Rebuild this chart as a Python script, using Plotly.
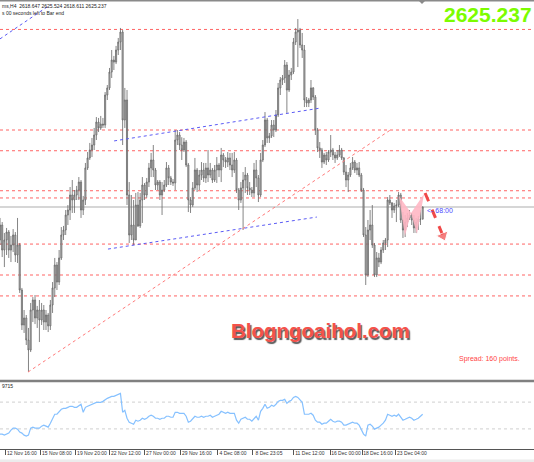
import plotly.graph_objects as go

# ---------------- data ----------------
open_ = [2607.4, 2615.5, 2602.0, 2607.4, 2611.7, 2602.0, 2604.7, 2610.1, 2599.3, 2604.7,
         2580.4, 2561.5, 2565.3, 2553.4, 2548.0, 2569.6, 2575.0, 2565.3, 2569.6, 2564.2,
         2569.6, 2563.1, 2566.9, 2561.0, 2572.3, 2581.5, 2593.9, 2584.7, 2597.7, 2610.1,
         2612.8, 2620.9, 2623.6, 2631.7, 2629.0, 2631.7, 2634.4, 2638.7, 2623.6, 2629.0,
         2646.3, 2651.7, 2656.0, 2658.7, 2664.1, 2671.1, 2667.9, 2670.0, 2669.5, 2685.7,
         2689.5, 2698.1, 2704.6, 2703.5, 2710.0, 2714.3, 2719.7, 2672.2, 2683.0, 2631.7,
         2610.1, 2615.5, 2607.4, 2626.3, 2615.0, 2629.0, 2637.1, 2631.7, 2638.7, 2646.3,
         2650.6, 2645.2, 2637.1, 2638.7, 2631.7, 2634.4, 2637.1, 2646.3, 2640.9, 2638.7,
         2638.2, 2661.4, 2664.1, 2658.7, 2656.0, 2660.3, 2647.9, 2629.0, 2626.3, 2635.5,
         2645.2, 2637.1, 2642.5, 2645.2, 2640.9, 2646.3, 2642.5, 2645.2, 2639.8, 2645.2,
         2647.9, 2645.2, 2653.3, 2650.6, 2649.5, 2651.7, 2647.9, 2645.2, 2650.6, 2634.4,
         2629.0, 2635.5, 2639.8, 2642.5, 2635.5, 2634.4, 2632.8, 2645.2, 2640.9, 2631.7,
         2650.6, 2658.7, 2672.2, 2662.5, 2663.6, 2669.5, 2666.8, 2674.9, 2689.5, 2693.8,
         2694.9, 2701.9, 2688.4, 2696.5, 2698.1, 2714.3, 2719.7, 2720.8, 2712.7, 2710.0,
         2683.0, 2681.4, 2683.0, 2689.5, 2684.6, 2666.8, 2657.1, 2656.0, 2649.5, 2653.3,
         2650.6, 2654.9, 2656.0, 2653.3, 2651.7, 2653.3, 2656.0, 2651.7, 2644.1, 2639.8,
         2642.5, 2646.3, 2649.5, 2645.2, 2646.3, 2642.5, 2634.4, 2610.1, 2588.5, 2612.8,
         2615.5, 2604.7, 2588.5, 2597.7, 2595.5, 2602.0, 2605.8, 2607.4, 2629.0, 2627.4,
         2623.6, 2625.8, 2626.3, 2631.7, 2618.2, 2612.8, 2617.1, 2619.3, 2620.9, 2618.2,
         2613.9, 2617.1, 2618.7, 2618.647]
high = [2619.3, 2617.1, 2611.2, 2613.9, 2612.8, 2609.6, 2613.3, 2611.7, 2619.3, 2605.8,
        2581.5, 2569.6, 2566.9, 2559.9, 2573.4, 2576.6, 2577.7, 2571.8, 2575.0, 2573.4,
        2572.3, 2569.6, 2568.0, 2575.0, 2584.7, 2597.7, 2595.5, 2602.0, 2614.4, 2615.0,
        2623.6, 2626.3, 2636.0, 2639.8, 2634.4, 2636.6, 2641.4, 2639.8, 2631.2, 2649.0,
        2654.9, 2659.8, 2662.5, 2667.9, 2673.8, 2673.3, 2674.4, 2673.3, 2687.3, 2691.1,
        2700.3, 2710.0, 2706.8, 2712.2, 2716.5, 2721.9, 2720.8, 2689.5, 2688.4, 2638.7,
        2631.7, 2629.0, 2632.8, 2633.3, 2632.8, 2641.4, 2638.2, 2640.9, 2649.0, 2654.4,
        2658.7, 2646.3, 2639.8, 2639.8, 2638.7, 2639.8, 2649.5, 2647.9, 2642.0, 2640.3,
        2666.8, 2666.8, 2665.7, 2662.9, 2662.5, 2661.4, 2649.0, 2630.6, 2638.7, 2651.7,
        2646.3, 2645.2, 2649.5, 2649.0, 2649.0, 2656.0, 2649.0, 2646.3, 2647.9, 2652.2,
        2649.0, 2657.1, 2654.4, 2652.2, 2654.9, 2654.4, 2654.4, 2654.9, 2651.7, 2635.5,
        2638.7, 2644.1, 2646.8, 2643.6, 2638.7, 2636.0, 2649.0, 2650.6, 2642.5, 2654.4,
        2661.4, 2676.5, 2673.3, 2665.2, 2672.2, 2672.2, 2677.6, 2692.2, 2695.4, 2696.5,
        2704.6, 2703.5, 2699.2, 2700.3, 2716.5, 2721.9, 2726.7, 2721.9, 2719.2, 2712.7,
        2684.6, 2684.1, 2693.8, 2690.0, 2685.7, 2667.9, 2660.3, 2657.1, 2654.4, 2654.9,
        2656.0, 2664.1, 2657.1, 2654.9, 2656.0, 2658.7, 2657.1, 2652.2, 2647.9, 2644.1,
        2649.0, 2652.2, 2650.6, 2649.0, 2649.5, 2643.6, 2635.5, 2614.4, 2618.2, 2623.6,
        2626.3, 2605.8, 2600.9, 2600.4, 2603.6, 2607.4, 2608.5, 2630.6, 2631.7, 2627.9,
        2627.4, 2629.0, 2633.3, 2632.8, 2622.5, 2620.9, 2622.0, 2623.6, 2622.0, 2620.9,
        2619.3, 2620.4, 2623.6, 2625.524]
low = [2604.7, 2598.2, 2592.8, 2599.3, 2597.7, 2595.5, 2600.9, 2595.5, 2595.0, 2578.8,
       2558.8, 2557.2, 2550.7, 2536.1, 2546.9, 2563.1, 2562.0, 2559.9, 2552.3, 2561.5,
       2558.8, 2558.8, 2557.7, 2558.8, 2568.0, 2576.6, 2580.4, 2583.1, 2596.6, 2607.4,
       2610.1, 2615.5, 2618.2, 2622.0, 2622.0, 2629.0, 2629.0, 2619.3, 2620.9, 2626.3,
       2645.2, 2650.6, 2652.2, 2656.0, 2661.4, 2665.7, 2666.8, 2667.9, 2667.9, 2683.0,
       2688.4, 2694.9, 2699.2, 2702.4, 2707.3, 2710.0, 2658.7, 2667.9, 2626.3, 2605.8,
       2607.4, 2604.7, 2607.4, 2614.4, 2613.9, 2616.6, 2629.0, 2630.2, 2636.0, 2641.4,
       2641.4, 2634.4, 2634.4, 2629.0, 2620.9, 2633.3, 2636.0, 2637.1, 2637.1, 2636.6,
       2634.4, 2658.7, 2656.0, 2650.6, 2654.9, 2646.8, 2622.5, 2622.0, 2625.2, 2634.4,
       2633.3, 2634.4, 2639.8, 2638.7, 2638.2, 2638.7, 2640.9, 2638.2, 2638.7, 2638.2,
       2641.4, 2638.7, 2646.8, 2646.3, 2646.8, 2645.2, 2641.4, 2643.6, 2632.8, 2623.6,
       2627.4, 2612.8, 2632.8, 2631.7, 2631.7, 2630.6, 2630.6, 2636.0, 2627.9, 2630.6,
       2649.5, 2657.6, 2659.8, 2659.8, 2662.5, 2663.0, 2665.7, 2673.8, 2685.7, 2691.1,
       2692.2, 2676.0, 2687.3, 2693.8, 2697.0, 2712.7, 2700.8, 2711.1, 2705.7, 2679.2,
       2679.2, 2679.2, 2681.4, 2683.0, 2664.1, 2654.9, 2651.7, 2646.3, 2648.4, 2647.9,
       2649.5, 2652.2, 2650.6, 2649.0, 2650.6, 2652.2, 2650.6, 2642.5, 2636.0, 2633.3,
       2641.4, 2645.2, 2643.6, 2642.5, 2641.4, 2633.3, 2609.0, 2583.1, 2587.4, 2607.4,
       2603.1, 2587.4, 2587.4, 2592.8, 2594.4, 2600.4, 2602.0, 2603.6, 2626.3, 2619.3,
       2622.0, 2617.1, 2625.2, 2616.6, 2608.5, 2609.0, 2614.4, 2618.2, 2615.5, 2611.2,
       2611.2, 2612.8, 2615.5, 2618.611]
close = [2615.5, 2602.0, 2607.4, 2611.7, 2602.0, 2604.7, 2610.1, 2599.3, 2604.7, 2580.4,
         2561.5, 2565.3, 2553.4, 2548.0, 2569.6, 2575.0, 2565.3, 2569.6, 2564.2, 2569.6,
         2563.1, 2566.9, 2561.0, 2572.3, 2581.5, 2593.9, 2584.7, 2597.7, 2610.1, 2612.8,
         2620.9, 2623.6, 2631.7, 2629.0, 2631.7, 2634.4, 2638.7, 2623.6, 2629.0, 2646.3,
         2651.7, 2656.0, 2658.7, 2664.1, 2671.1, 2667.9, 2670.0, 2669.5, 2685.7, 2689.5,
         2698.1, 2704.6, 2703.5, 2710.0, 2714.3, 2719.7, 2672.2, 2683.0, 2631.7, 2610.1,
         2615.5, 2607.4, 2626.3, 2615.0, 2629.0, 2637.1, 2631.7, 2638.7, 2646.3, 2650.6,
         2645.2, 2637.1, 2638.7, 2631.7, 2634.4, 2637.1, 2646.3, 2640.9, 2638.7, 2638.2,
         2661.4, 2664.1, 2658.7, 2656.0, 2660.3, 2647.9, 2629.0, 2626.3, 2635.5, 2645.2,
         2637.1, 2642.5, 2645.2, 2640.9, 2646.3, 2642.5, 2645.2, 2639.8, 2645.2, 2647.9,
         2645.2, 2653.3, 2650.6, 2649.5, 2651.7, 2647.9, 2645.2, 2650.6, 2634.4, 2629.0,
         2635.5, 2639.8, 2642.5, 2635.5, 2634.4, 2632.8, 2645.2, 2640.9, 2631.7, 2650.6,
         2658.7, 2672.2, 2662.5, 2663.6, 2669.5, 2666.8, 2674.9, 2689.5, 2693.8, 2694.9,
         2701.9, 2688.4, 2696.5, 2698.1, 2714.3, 2719.7, 2720.8, 2712.7, 2710.0, 2683.0,
         2681.4, 2683.0, 2689.5, 2684.6, 2666.8, 2657.1, 2656.0, 2649.5, 2653.3, 2650.6,
         2654.9, 2656.0, 2653.3, 2651.7, 2653.3, 2656.0, 2651.7, 2644.1, 2639.8, 2642.5,
         2646.3, 2649.5, 2645.2, 2646.3, 2642.5, 2634.4, 2610.1, 2588.5, 2612.8, 2615.5,
         2604.7, 2588.5, 2597.7, 2595.5, 2602.0, 2605.8, 2607.4, 2629.0, 2627.4, 2623.6,
         2625.8, 2626.3, 2631.7, 2618.2, 2612.8, 2617.1, 2619.3, 2620.9, 2618.2, 2613.9,
         2617.1, 2618.7, 2618.6, 2625.237]
rsi = [22.2, 22.2, 20.7, 22.2, 23.7, 28.1, 31.1, 31.1, 29.6, 25.2,
       23.7, 20.7, 19.3, 20.7, 31.1, 32.6, 31.1, 31.1, 31.1, 34.1,
       35.6, 34.1, 32.6, 38.5, 45.9, 51.9, 51.9, 56.3, 59.3, 60.7,
       60.7, 62.2, 63.7, 63.7, 62.2, 62.2, 65.2, 66.7, 54.8, 62.2,
       63.7, 65.2, 66.7, 68.1, 69.6, 69.6, 69.6, 71.1, 74.1, 75.6,
       77.0, 78.5, 78.5, 80.0, 81.5, 83.0, 54.8, 57.8, 45.9, 40.0,
       38.5, 37.0, 43.0, 41.5, 43.0, 45.9, 44.4, 45.9, 48.9, 50.4,
       48.9, 45.9, 45.9, 44.4, 45.9, 45.9, 48.9, 48.9, 47.4, 47.4,
       54.8, 54.8, 53.3, 53.3, 53.3, 48.9, 40.0, 41.5, 45.9, 48.9,
       47.4, 47.4, 48.9, 47.4, 48.9, 48.9, 50.4, 47.4, 48.9, 50.4,
       51.9, 56.3, 54.8, 53.3, 54.8, 53.3, 53.3, 53.3, 43.0, 38.5,
       44.4, 45.9, 47.4, 44.4, 44.4, 41.5, 45.9, 48.9, 43.0, 56.3,
       60.7, 66.7, 60.7, 62.2, 65.2, 63.7, 66.7, 71.1, 72.6, 72.6,
       74.1, 68.1, 71.1, 72.6, 77.0, 78.5, 77.0, 72.6, 69.6, 51.9,
       51.9, 51.9, 53.3, 50.4, 43.0, 40.0, 40.0, 37.0, 38.5, 38.5,
       41.5, 44.4, 41.5, 40.0, 41.5, 41.5, 40.0, 35.6, 35.6, 37.0,
       38.5, 40.0, 38.5, 38.5, 35.6, 29.6, 22.2, 19.3, 35.6, 37.0,
       34.1, 29.6, 31.1, 32.6, 35.6, 38.5, 43.0, 51.9, 50.4, 48.9,
       50.4, 48.9, 51.9, 47.4, 43.0, 44.4, 45.9, 47.4, 45.9, 43.0,
       44.4, 45.9, 48.9, 51.9]
rsi_levels = [70, 30]

levels = [2721.1, 2666.8, 2655.6, 2634.0, 2630.1, 2605.2, 2588.5, 2577.2]
bid = 2625.237

tick_idx = [2.7, 18.7, 34.7, 50.2, 66.2, 82.6, 99.1, 115.5, 134.2, 150.7, 165.3, 180.8]
tick_text = ["12 Nov 16:00", "15 Nov 08:00", "19 Nov 20:00", "22 Nov 12:00",
             "27 Nov 00:00", "29 Nov 16:00", "4 Dec 08:00", "8 Dec 23:05",
             "11 Dec 12:00", "16 Dec 00:00", "18 Dec 16:00", "23 Dec 04:00"]

# trend lines: (bar index, price) pairs
blue_lines = [((0.0, 2716.0), (22.8, 2734.3)),
              ((52.1, 2660.9), (146.6, 2678.7)),
              ((49.3, 2602.5), (144.7, 2619.8))]
red_line = ((12.8, 2536.1), (178.9, 2667.3))
pattern_x = [182.2, 184.9, 187.7, 182.2, None, 187.7, 190.4, 193.6, 187.7]
pattern_y = [2631.2, 2609.6, 2622.0, 2631.2, None, 2622.0, 2610.6, 2632.2, 2622.0]
arrow_x = [194.1, 202.3]
arrow_y = [2632.8, 2609.6]

bars = list(range(len(close)))

# ---------------- figure ----------------
H_PLOT = 449.0
def py(px):
    return 1 - px / H_PLOT

fig = go.Figure()

fig.add_trace(go.Scatter(x=pattern_x, y=pattern_y, mode="lines", fill="toself",
                         fillcolor="rgba(255,183,196,0.9)", line=dict(width=0),
                         hoverinfo="skip", showlegend=False))

fig.add_trace(go.Candlestick(
    x=bars, open=open_, high=high, low=low, close=close,
    increasing=dict(line=dict(color="#666666", width=0.8), fillcolor="#c4c4c4"),
    decreasing=dict(line=dict(color="#666666", width=0.8), fillcolor="#c4c4c4"),
    whiskerwidth=0, showlegend=False))

fig.add_trace(go.Scatter(
    x=arrow_x, y=arrow_y, mode="lines+markers",
    line=dict(color="#F04848", width=3, dash="dash"),
    marker=dict(symbol=["circle", "triangle-up"], size=[0, 11], color="#F04848",
                angleref="previous"),
    showlegend=False, hoverinfo="skip"))

fig.add_trace(go.Scatter(x=bars, y=rsi, mode="lines", yaxis="y2",
                         line=dict(color="#86C1FF", width=1.2), showlegend=False))

shapes = []
for lv in levels:
    shapes.append(dict(type="line", xref="paper", x0=0, x1=1, yref="y", y0=lv, y1=lv,
                       line=dict(color="#FF6464", width=1, dash="dot"), layer="below"))
shapes.append(dict(type="line", xref="paper", x0=0, x1=1, yref="y", y0=bid, y1=bid,
                   line=dict(color="#C8C8C8", width=1.5), layer="below"))
for (a, b) in blue_lines:
    shapes.append(dict(type="line", xref="x", yref="y", x0=a[0], y0=a[1], x1=b[0], y1=b[1],
                       line=dict(color="#5B5BF5", width=1, dash="dot")))
shapes.append(dict(type="line", xref="x", yref="y", x0=red_line[0][0], y0=red_line[0][1],
                   x1=red_line[1][0], y1=red_line[1][1],
                   line=dict(color="#FF7A7A", width=1, dash="dot")))
for lv in rsi_levels:
    shapes.append(dict(type="line", xref="paper", x0=0, x1=1, yref="y2", y0=lv, y1=lv,
                       line=dict(color="#CFCFCF", width=1, dash="dot"), layer="below"))
# panel separator and top border
shapes.append(dict(type="line", xref="paper", x0=0, x1=1, yref="paper", y0=py(381), y1=py(381),
                   line=dict(color="#808080", width=2.5)))
shapes.append(dict(type="line", xref="paper", x0=0, x1=1, yref="paper", y0=py(0.8), y1=py(0.8),
                   line=dict(color="#8a8a8a", width=1.5)))
shapes.append(dict(type="path", xref="paper", yref="paper",
                   path=f"M {419/534} {py(1)} L {425/534} {py(1)} L {422/534} {py(4)} Z",
                   fillcolor="#8a8a8a", line=dict(width=0)))
# light band at the very bottom of the window
shapes.append(dict(type="rect", xref="paper", x0=0, x1=1, yref="paper",
                   y0=py(459.5), y1=py(462), fillcolor="#ececec", line=dict(width=0)))

annotations = [
    dict(text="2625.237", x=1, xref="paper", xanchor="right", y=py(14), yref="paper",
         yanchor="middle", showarrow=False,
         font=dict(family="Liberation Sans", size=21, color="#7CFC00", weight="bold")),
    dict(text="ms,H4  2618.647 2625.524 2618.611 2625.237", x=0, xref="paper", xanchor="left",
         y=py(5.5), yref="paper", yanchor="middle", showarrow=False,
         font=dict(family="Liberation Sans", size=5, color="#222")),
    dict(text="s 00 seconds left to Bar end", x=0, xref="paper", xanchor="left",
         y=py(13), yref="paper", yanchor="middle", showarrow=False,
         font=dict(family="Liberation Sans", size=5, color="#222")),
    dict(text="Blogngoaihol.com", x=320 / 534, xref="paper", xanchor="center",
         y=py(330), yref="paper", yanchor="middle", showarrow=False,
         font=dict(family="Liberation Sans", size=20.5, color="#F4524A", weight="bold",
                   shadow="1.5px 1.5px 1px #5a5a5a")),
    dict(text="Spread: 160 points.", x=457 / 534, xref="paper", xanchor="left",
         y=py(359), yref="paper", yanchor="middle", showarrow=False,
         font=dict(family="Liberation Sans", size=7, color="#FF4444")),
    dict(text="<- 68:00", x=425 / 534, xref="paper", xanchor="left",
         y=py(210), yref="paper", yanchor="middle", showarrow=False,
         font=dict(family="Liberation Sans", size=7, color="#4D4DFF")),
    dict(text="9715", x=0, xref="paper", xanchor="left",
         y=py(386), yref="paper", yanchor="middle", showarrow=False,
         font=dict(family="Liberation Sans", size=5, color="#222")),
]

fig.update_layout(
    width=534, height=462,
    margin=dict(l=0, r=0, t=0, b=13),
    paper_bgcolor="white", plot_bgcolor="white",
    showlegend=False,
    shapes=shapes, annotations=annotations,
    xaxis=dict(range=[0, 534 / 2.19], anchor="y2", showgrid=False, zeroline=False,
               rangeslider=dict(visible=False),
               tickvals=tick_idx, ticktext=tick_text, ticks="outside", ticklen=5,
               tickcolor="#555", tickwidth=1, ticklabelshift=16, ticklabelstandoff=-6,
               tickfont=dict(family="Liberation Sans", size=5, color="#333"),
               showline=True, linecolor="#555", linewidth=1),
    yaxis=dict(domain=[1 - 380 / H_PLOT, 1], range=[2531.8, 2737.0], visible=False,
               fixedrange=True),
    yaxis2=dict(domain=[0, (449 - 382) / H_PLOT], range=[0, 100], visible=False,
                anchor="x"),
)

fig.write_html("out.html",
               config={"displayModeBar": False, "staticPlot": True},
               post_script="document.body.style.margin='0px';"
                           "document.body.style.overflow='hidden';")
